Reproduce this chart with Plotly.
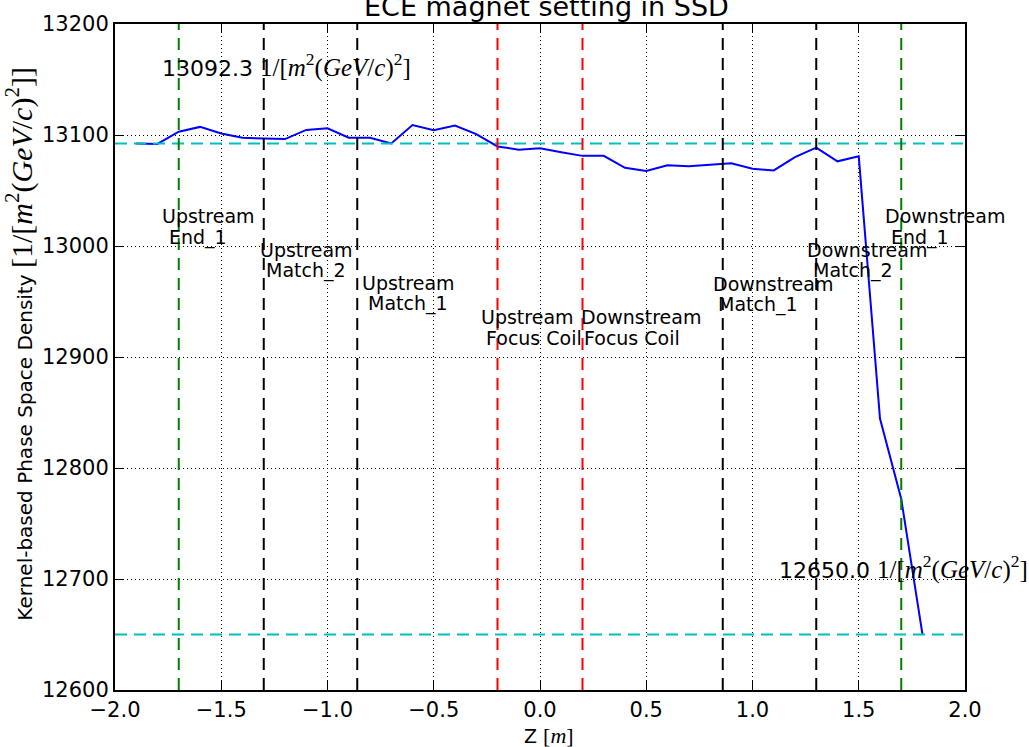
import plotly.graph_objects as go

# ---------------- data ----------------
z_positions = [-1.9, -1.8, -1.7, -1.6, -1.5, -1.4, -1.3, -1.2, -1.1, -1.0,
               -0.9, -0.8, -0.7, -0.6, -0.5, -0.4, -0.3, -0.2, -0.1, 0.0,
               0.1, 0.2, 0.3, 0.4, 0.5, 0.6, 0.7, 0.8, 0.9, 1.0,
               1.1, 1.2, 1.3, 1.4, 1.5, 1.6, 1.7, 1.8]
density = [13092.3, 13092.0, 13103.0, 13107.3, 13101.3, 13097.5, 13096.9, 13096.3, 13104.6, 13106.0,
           13097.5, 13097.5, 13092.4, 13109.0, 13104.3, 13108.5, 13100.8, 13089.7, 13086.8, 13088.0,
           13084.4, 13081.2, 13081.2, 13070.5, 13067.5, 13072.8, 13071.9, 13073.1, 13074.6, 13069.6,
           13068.1, 13080.0, 13088.6, 13076.3, 13080.8, 12844.5, 12772.0, 12650.0]

ref_values = [13092.3, 12650.0]

element_line1 = ["Upstream", "Upstream", "Upstream", "Upstream",
                 "Downstream", "Downstream", "Downstream", "Downstream"]
element_line2 = ["End_1", "Match_2", "Match_1", "Focus Coil",
                 "Focus Coil", "Match_1", "Match_2", "End_1"]
element_z = [-1.7, -1.3, -0.86, -0.2, 0.2, 0.86, 1.3, 1.7]
element_colors = ["#008000", "black", "black", "#ff0000", "#ff0000", "black", "black", "#008000"]

x_ticks = [-2.0, -1.5, -1.0, -0.5, 0.0, 0.5, 1.0, 1.5, 2.0]
y_ticks = [12600, 12700, 12800, 12900, 13000, 13100, 13200]

# ---------------- layout helpers (pixel-measured placements) ----------------
PX_PER_X = 850 / 4.0
PX_PER_Y = 673 / 600.0
line1_px_x = [208.5, 306.5, 408, 527.5, 640.5, 772.7, 867, 944.5]
line2_px_x = [197.5, 306, 407.5, 534, 631.5, 758, 853, 920]
block_px_y = [222, 256, 289, 324, 324, 290, 256, 222]
LINE_HALF_GAP = 10.5


def px_to_x(px):
    return (px - 115) / PX_PER_X - 2.0


def px_to_y(py):
    return 13200 - (py - 17) / PX_PER_Y


SANS = "DejaVu Sans"
unit_html = ('<span style="font-family:Liberation Serif;font-size:25px">1/[<i>m</i><sup>2</sup>'
             '(<i>GeV</i>/<i>c</i>)<sup>2</sup>]</span>')

fig = go.Figure()

fig.add_trace(go.Scatter(x=z_positions, y=density, mode="lines",
                         line=dict(color="#0000ff", width=2), showlegend=False,
                         hoverinfo="skip"))

for v in ref_values:
    fig.add_shape(type="line", xref="paper", x0=0, x1=1, yref="y", y0=v, y1=v,
                  line=dict(color="#00bfbf", width=2, dash="12px,7px"), layer="above")

for zp, col in zip(element_z, element_colors):
    fig.add_shape(type="line", xref="x", x0=zp, x1=zp, yref="paper", y0=0, y1=1,
                  line=dict(color=col, width=2, dash="12px,8px"), layer="above")

for t1, t2, x1p, x2p, byp in zip(element_line1, element_line2, line1_px_x, line2_px_x, block_px_y):
    fig.add_annotation(x=px_to_x(x1p), y=px_to_y(byp - LINE_HALF_GAP), xref="x", yref="y",
                       text=t1, showarrow=False, xanchor="center", yanchor="middle",
                       font=dict(family=SANS, size=19, color="black"))
    fig.add_annotation(x=px_to_x(x2p), y=px_to_y(byp + LINE_HALF_GAP), xref="x", yref="y",
                       text=t2, showarrow=False, xanchor="center", yanchor="middle",
                       font=dict(family=SANS, size=19, color="black"))

fig.add_annotation(x=-1.788, y=13163, xref="x", yref="y",
                   text=f"{ref_values[0]:.1f} " + unit_html, showarrow=False,
                   xanchor="left", yanchor="middle",
                   font=dict(family=SANS, size=22, color="black"))
fig.add_annotation(x=1.115, y=12710, xref="x", yref="y",
                   text=f"{ref_values[1]:.1f} " + unit_html, showarrow=False,
                   xanchor="left", yanchor="middle",
                   font=dict(family=SANS, size=22, color="black"))

# title (partly cut off at the top like the reference)
fig.add_annotation(x=(546 - 115) / 850, y=(690 + 0.5) / 673, xref="paper", yref="paper",
                   text="ECE magnet setting in SSD", showarrow=False,
                   xanchor="center", yanchor="middle",
                   font=dict(family=SANS, size=27, color="black"))

# axis titles
fig.add_annotation(x=(20 - 115) / 850, y=(690 - 340) / 673, xref="paper", yref="paper",
                   text="Kernel-based Phase Space Density "
                        '<span style="font-family:Liberation Serif;font-size:30px">[1/[<i>m</i><sup>2</sup>'
                        '(<i>GeV</i>/<i>c</i>)<sup>2</sup>]]</span>',
                   showarrow=False, textangle=-90, xanchor="center", yanchor="middle",
                   font=dict(family=SANS, size=20, color="black"))
fig.add_annotation(x=(549 - 115) / 850, y=(690 - 736) / 673, xref="paper", yref="paper",
                   text='Z <span style="font-family:Liberation Serif;font-size:22px">[<i>m</i>]</span>',
                   showarrow=False, xanchor="center", yanchor="middle",
                   font=dict(family=SANS, size=19, color="black"))

axis_common = dict(showline=True, linecolor="black", linewidth=2, mirror="ticks",
                   ticks="inside", ticklen=9, tickwidth=1, tickcolor="black",
                   showgrid=True, gridcolor="black", gridwidth=1, griddash="1px,3px",
                   zeroline=False, tickfont=dict(family=SANS, size=21, color="black"))

fig.update_xaxes(range=[-2, 2], tickvals=x_ticks, tickformat=".1f", **axis_common)
fig.update_yaxes(range=[12600, 13200], tickvals=y_ticks, tickformat="d", **axis_common)

fig.update_layout(width=1029, height=747, autosize=False,
                  margin=dict(l=115, r=64, t=17, b=57),
                  paper_bgcolor="white", plot_bgcolor="white",
                  font=dict(family=SANS, color="black"))

fig.write_html("out.html")
